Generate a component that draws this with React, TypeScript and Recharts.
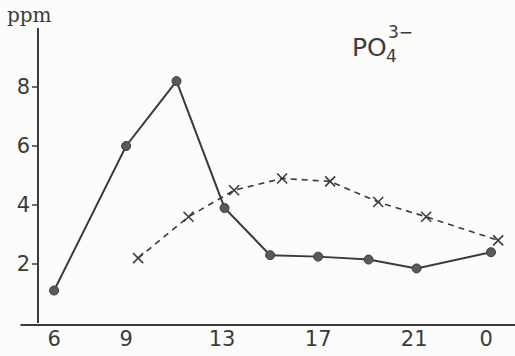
import { LineChart, Line, XAxis, YAxis, ReferenceLine } from 'recharts';

// hour of day (24 = midnight), ppm
const solidHours = [6, 9, 11.1, 13.1, 15, 17, 19.1, 21.1, 24.2];
const solidValues = [1.1, 6.0, 8.2, 3.9, 2.3, 2.25, 2.15, 1.85, 2.4];
const dashedHours = [9.5, 11.6, 13.5, 15.5, 17.5, 19.5, 21.5, 24.5];
const dashedValues = [2.2, 3.6, 4.5, 4.9, 4.8, 4.1, 3.6, 2.8];
const xTicks = [6, 9, 13, 17, 21, 24];
const yTicks = [2, 4, 6, 8];

const INK = '#3b3b3b';

const data = [
  ...solidHours.map((h, i) => ({ h, solid: solidValues[i], dashed: null as number | null })),
  ...dashedHours.map((h, i) => ({ h, solid: null as number | null, dashed: dashedValues[i] })),
].sort((a, b) => a.h - b.h);

const Cross = (props: any) => {
  const { cx, cy, value } = props;
  if (value == null || cx == null) return null;
  const s = 5;
  return (
    <g stroke={INK} strokeWidth={1.6}>
      <line x1={cx - s} y1={cy - s} x2={cx + s} y2={cy + s} />
      <line x1={cx - s} y1={cy + s} x2={cx + s} y2={cy - s} />
    </g>
  );
};

const Dot = (props: any) => {
  const { cx, cy, value } = props;
  if (value == null || cx == null) return null;
  return <circle cx={cx} cy={cy} r={4.5} fill="#5a5a5a" stroke={INK} strokeWidth={1} />;
};

export default function App() {
  return (
    <div style={{ position: 'absolute', left: 0, top: 0, width: 515, height: 356, background: '#fcfcfa' }}>
      <LineChart width={515} height={356} data={data} margin={{ top: 28, right: 0, left: 8, bottom: 0 }}>
        <XAxis
          type="number"
          dataKey="h"
          domain={[5.33, 25.2]}
          ticks={xTicks}
          tickFormatter={(v) => (v === 24 ? '0' : String(v))}
          tick={{ fontSize: 21, fill: INK, fontFamily: 'DejaVu Sans' }}
          tickLine={false}
          axisLine={false}
          height={33}
          allowDataOverflow
        />
        <YAxis
          type="number"
          domain={[0, 10]}
          ticks={yTicks}
          width={30}
          tick={{ fontSize: 21, fill: INK, fontFamily: 'DejaVu Sans' }}
          tickLine={{ stroke: INK, strokeWidth: 1.5 }}
          tickSize={6}
          axisLine={{ stroke: INK, strokeWidth: 2 }}
        />
        <ReferenceLine
          segment={[{ x: 4.6, y: -0.07 }, { x: 25.2, y: -0.07 }]}
          stroke={INK}
          strokeWidth={2}
          ifOverflow="visible"
        />
        <Line
          type="linear"
          dataKey="solid"
          stroke={INK}
          strokeWidth={2}
          connectNulls
          dot={<Dot />}
          activeDot={false}
          isAnimationActive={false}
        />
        <Line
          type="linear"
          dataKey="dashed"
          stroke={INK}
          strokeWidth={1.6}
          strokeDasharray="6 5"
          connectNulls
          dot={<Cross />}
          activeDot={false}
          isAnimationActive={false}
        />
      </LineChart>
      <div style={{ position: 'absolute', left: 7, top: 3, fontFamily: 'DejaVu Serif', fontSize: 20, color: INK, lineHeight: 1.2 }}>
        ppm
      </div>
      <div style={{ position: 'absolute', left: 352, top: 35, fontFamily: 'DejaVu Sans', fontSize: 25, color: INK, lineHeight: 1 }}>
        PO
      </div>
      <div style={{ position: 'absolute', left: 388, top: 24, fontFamily: 'DejaVu Sans', fontSize: 17, color: INK, lineHeight: 1 }}>
        3−
      </div>
      <div style={{ position: 'absolute', left: 386, top: 48, fontFamily: 'DejaVu Sans', fontSize: 17, color: INK, lineHeight: 1 }}>
        4
      </div>
    </div>
  );
}
